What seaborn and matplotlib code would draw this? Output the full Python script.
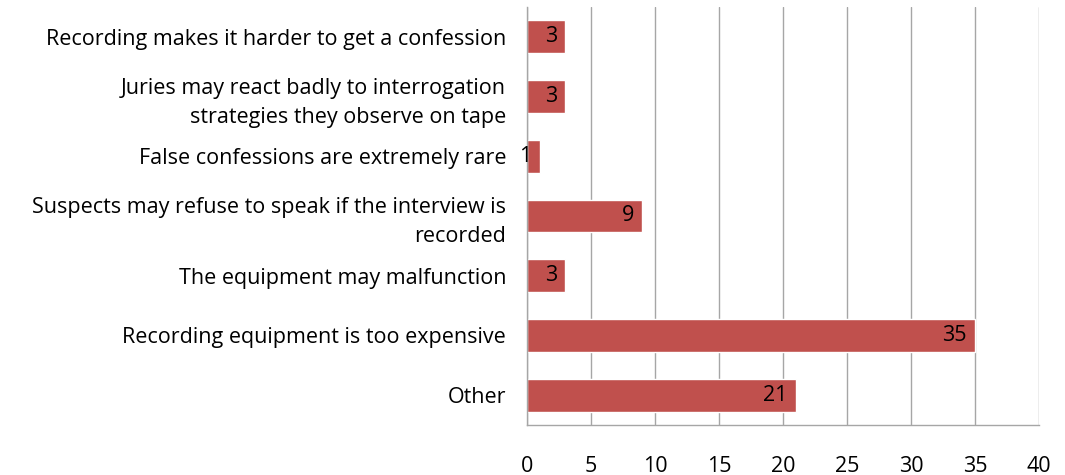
import pandas as pd
import seaborn as sns
import matplotlib.pyplot as plt

categorias = [
    "Recording makes it harder to get a confession",
    "Juries may react badly to interrogation\nstrategies they observe on tape",
    "False confessions are extremely rare",
    "Suspects may refuse to speak if the interview is\nrecorded",
    "The equipment may malfunction",
    "Recording equipment is too expensive",
    "Other",
]
valores = [3, 3, 1, 9, 3, 35, 21]
ticks_x = [0, 5, 10, 15, 20, 25, 30, 35, 40]

df = pd.DataFrame({"categoria": categorias, "valor": valores})

sns.set_style("white")
plt.rcParams['font.family'] = ['Open Sans', 'DejaVu Sans']
plt.rcParams['text.color'] = 'black'

fig = plt.figure(figsize=(10.65, 4.75), dpi=100)
ax = fig.add_axes([0.4948, 0.1053, 0.481, 0.88])

sns.barplot(data=df, x="valor", y="categoria", orient="h", color="#C0504D",
            width=0.55, saturation=1, ax=ax)

# etiquetas de valor dentro del extremo de cada barra
for i, v in enumerate(valores):
    ax.annotate(str(v), (v, i), xytext=(-6, 0), textcoords="offset points",
                ha="right", va="center", fontsize=15.5, color="black")

ax.set_xlim(0, 40)
ax.set_xticks(ticks_x)
ax.xaxis.grid(True, color="#A6A6A6", linewidth=1)
ax.set_axisbelow(True)
ax.set_xlabel("")
ax.set_ylabel("")
ax.tick_params(axis="x", length=0, pad=22, labelsize=15.5, labelcolor="black")
ax.tick_params(axis="y", length=0, pad=15, labelsize=15.5, labelcolor="black")
for lbl in ax.get_yticklabels():
    lbl.set_linespacing(1.5)

for s in ["top", "right"]:
    ax.spines[s].set_visible(False)
for s in ["left", "bottom"]:
    ax.spines[s].set_color("#A6A6A6")
    ax.spines[s].set_linewidth(1)

plt.savefig("out.png", dpi=100)
plt.close()
